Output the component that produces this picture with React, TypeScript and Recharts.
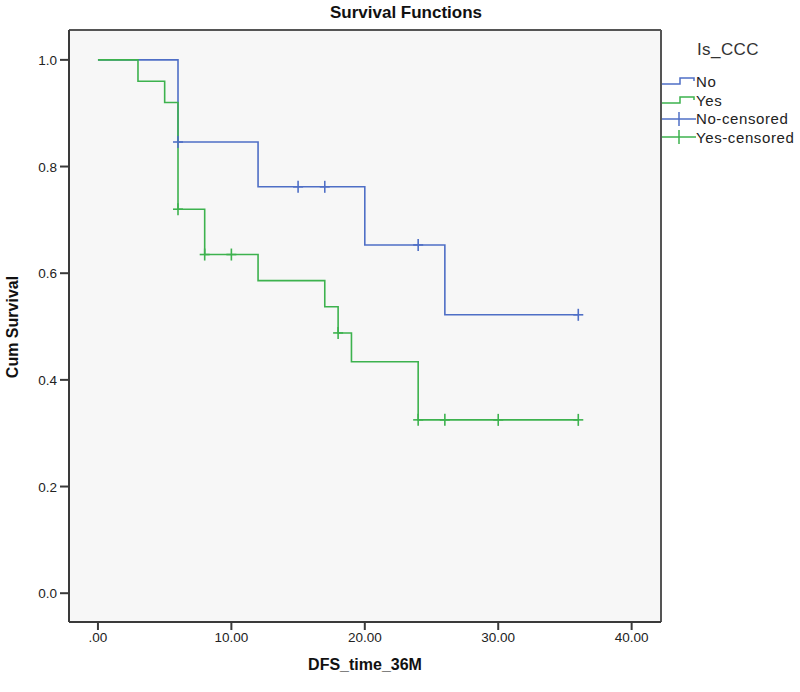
import React from "react";
import {
  ComposedChart,
  Line,
  Scatter,
  XAxis,
  YAxis,
  CartesianGrid,
} from "recharts";

// Kaplan-Meier steps
const noTimes = [0, 6, 12, 20, 26, 36];
const noSurvival = [1, 0.846, 0.762, 0.653, 0.522, 0.522];
const yesTimes = [0, 3, 5, 6, 8, 12, 17, 18, 19, 24, 36];
const yesSurvival = [1, 0.96, 0.92, 0.72, 0.635, 0.586, 0.537, 0.488, 0.434, 0.325, 0.325];

// censored observations
const noCensorTimes = [6, 15, 17, 24, 36];
const noCensorSurvival = [0.846, 0.762, 0.762, 0.653, 0.522];
const yesCensorTimes = [6, 8, 10, 18, 24, 26, 30, 36];
const yesCensorSurvival = [0.72, 0.635, 0.635, 0.488, 0.325, 0.325, 0.325, 0.325];

const xTicks = [0, 10, 20, 30, 40];
const yTicks = [0, 0.2, 0.4, 0.6, 0.8, 1.0];
const xDomain = [-2.17, 42.2];
const yDomain = [-0.054, 1.056];

const BLUE = "#4f6fc6";
const GREEN = "#3db24e";
const FONT = "Arial, 'Liberation Sans', sans-serif";

const noData = noTimes.map((t, i) => ({ t, s: noSurvival[i] }));
const yesData = yesTimes.map((t, i) => ({ t, s: yesSurvival[i] }));
const noCensored = noCensorTimes.map((t, i) => ({ t, s: noCensorSurvival[i] }));
const yesCensored = yesCensorTimes.map((t, i) => ({ t, s: yesCensorSurvival[i] }));

const plus = (color: string) => (props: any) => {
  const { cx, cy } = props;
  return (
    <g stroke={color} strokeWidth={1.6}>
      <line x1={cx - 5} y1={cy} x2={cx + 5} y2={cy} />
      <line x1={cx} y1={cy - 6} x2={cx} y2={cy + 6} />
    </g>
  );
};

const XTick = (props: any) => {
  const { x, y, payload } = props;
  const v = payload.value;
  return (
    <text x={x} y={y + 10} textAnchor="middle" fontSize={13.5} fill="#222" fontFamily={FONT}>
      {v === 0 ? ".00" : v.toFixed(2)}
    </text>
  );
};

const YTick = (props: any) => {
  const { x, y, payload } = props;
  return (
    <text x={x} y={y + 5} textAnchor="end" fontSize={13.5} fill="#222" fontFamily={FONT}>
      {payload.value.toFixed(1)}
    </text>
  );
};

const StepIcon = ({ color }: { color: string }) => (
  <svg width={34} height={10} style={{ display: "block" }}>
    <polyline points="0,8 18,8 18,2 32,2 32,5" fill="none" stroke={color} strokeWidth={1.5} />
  </svg>
);

const CensorIcon = ({ color }: { color: string }) => (
  <svg width={34} height={14} style={{ display: "block" }}>
    <line x1={0} y1={7} x2={34} y2={7} stroke={color} strokeWidth={1.5} />
    <line x1={17} y1={0} x2={17} y2={14} stroke={color} strokeWidth={1.5} />
  </svg>
);

const legendItems = [
  { label: "No", icon: <StepIcon color={BLUE} /> },
  { label: "Yes", icon: <StepIcon color={GREEN} /> },
  { label: "No-censored", icon: <CensorIcon color={BLUE} /> },
  { label: "Yes-censored", icon: <CensorIcon color={GREEN} /> },
];

const axisLine = { stroke: "#3a3a3a", strokeWidth: 2 };

export default function App() {
  return (
    <div
      style={{
        position: "absolute",
        left: 0,
        top: 0,
        width: 800,
        height: 692,
        background: "#fff",
        fontFamily: FONT,
      }}
    >
      <div
        style={{
          position: "absolute",
          top: 3,
          left: 0,
          width: 812,
          textAlign: "center",
          fontWeight: "bold",
          fontSize: 17,
          color: "#111",
        }}
      >
        Survival Functions
      </div>

      <ComposedChart
        width={800}
        height={692}
        margin={{ top: 30, right: 139, bottom: 0, left: 0 }}
      >
        <CartesianGrid
          xAxisId="b"
          yAxisId="l"
          fill="#f7f7f7"
          stroke="#555"
          strokeWidth={2}
          horizontalValues={yDomain}
          verticalValues={xDomain}
        />
        <XAxis
          xAxisId="b"
          dataKey="t"
          type="number"
          domain={xDomain}
          ticks={xTicks}
          allowDataOverflow
          height={70}
          axisLine={axisLine}
          tickLine={{ stroke: "#3a3a3a", strokeWidth: 2 }}
          tickSize={8}
          tick={<XTick />}
        />
        <YAxis
          yAxisId="l"
          dataKey="s"
          type="number"
          domain={yDomain}
          ticks={yTicks}
          allowDataOverflow
          width={69}
          axisLine={axisLine}
          tickLine={{ stroke: "#3a3a3a", strokeWidth: 2 }}
          tickSize={9}
          tickMargin={3}
          tick={<YTick />}
        />
        <Line
          xAxisId="b"
          yAxisId="l"
          data={noData}
          dataKey="s"
          type="stepAfter"
          stroke={BLUE}
          strokeWidth={1.6}
          dot={false}
          activeDot={false}
          isAnimationActive={false}
        />
        <Line
          xAxisId="b"
          yAxisId="l"
          data={yesData}
          dataKey="s"
          type="stepAfter"
          stroke={GREEN}
          strokeWidth={1.6}
          dot={false}
          activeDot={false}
          isAnimationActive={false}
        />
        <Scatter
          xAxisId="b"
          yAxisId="l"
          data={noCensored}
          dataKey="s"
          shape={plus(BLUE)}
          isAnimationActive={false}
        />
        <Scatter
          xAxisId="b"
          yAxisId="l"
          data={yesCensored}
          dataKey="s"
          shape={plus(GREEN)}
          isAnimationActive={false}
        />
      </ComposedChart>

      <div
        style={{
          position: "absolute",
          left: 2,
          top: 327,
          transform: "translate(0, -50%) rotate(-90deg)",
          transformOrigin: "center",
          width: 22,
          display: "flex",
          justifyContent: "center",
        }}
      >
        <span style={{ whiteSpace: "nowrap", fontWeight: "bold", fontSize: 16, color: "#111" }}>
          Cum Survival
        </span>
      </div>

      <div
        style={{
          position: "absolute",
          left: 69,
          width: 592,
          top: 656,
          textAlign: "center",
          fontWeight: "bold",
          fontSize: 16,
          color: "#111",
        }}
      >
        DFS_time_36M
      </div>

      <div style={{ position: "absolute", left: 662, top: 40, fontSize: 15, letterSpacing: 0.6, color: "#222" }}>
        <div style={{ fontSize: 17, letterSpacing: 0.4, marginLeft: 35, height: 32, color: "#333" }}>Is_CCC</div>
        {legendItems.map((it) => (
          <div
            key={it.label}
            style={{ display: "flex", alignItems: "center", height: 18.7 }}
          >
            {it.icon}
            <span style={{ marginLeft: 0 }}>{it.label}</span>
          </div>
        ))}
      </div>
    </div>
  );
}
